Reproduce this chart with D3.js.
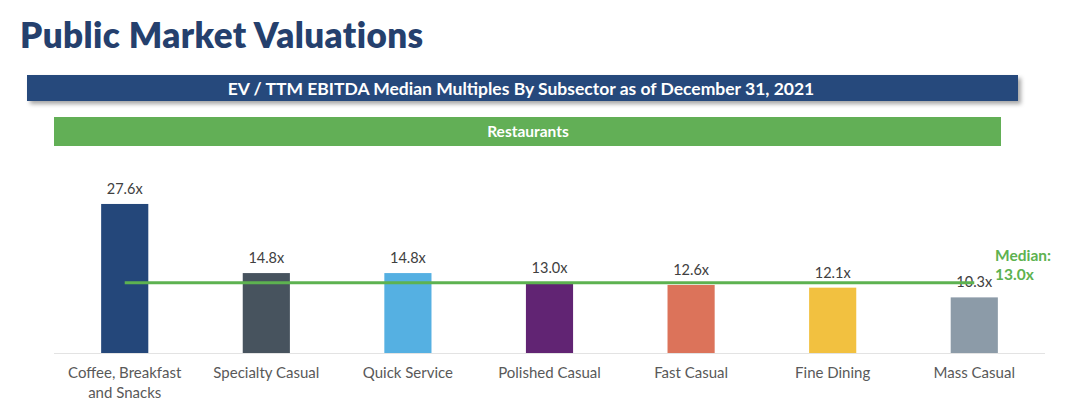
<!DOCTYPE html>
<html><head><meta charset="utf-8">
<script src="https://cdn.jsdelivr.net/npm/d3@7"></script>
<style>body{margin:0;background:#fff;} svg{display:block;font-family:Lato, "Open Sans", sans-serif;}</style>
</head><body>
<script>
const categories = ["Coffee, Breakfast|and Snacks","Specialty Casual","Quick Service","Polished Casual","Fast Casual","Fine Dining","Mass Casual"];
const values = [27.6,14.8,14.8,13.0,12.6,12.1,10.3];
const colors = ["#24477A","#47535E","#55B0E2","#612473","#DC735A","#F2C140","#8C9BA8"];
const medianValue = 13.0;
const titleText = "Public Market Valuations";
const headerText = "EV / TTM EBITDA Median Multiples By Subsector as of December 31, 2021";
const subHeaderText = "Restaurants";

const W=1079,H=415;
const svg=d3.select("body").append("svg").attr("width",W).attr("height",H);
const defs=svg.append("defs");
const f=defs.append("filter").attr("id","sh").attr("x","-5%").attr("y","-50%").attr("width","110%").attr("height","200%");
f.append("feDropShadow").attr("dx",3).attr("dy",3).attr("stdDeviation",2).attr("flood-color","#000").attr("flood-opacity",0.35);

svg.append("text").attr("x",20).attr("y",48).attr("fill","#25406D").attr("font-size",35).attr("font-weight",800).attr("letter-spacing",0.4).text(titleText);

svg.append("rect").attr("x",27).attr("y",75).attr("width",991).attr("height",26).attr("fill","#26487B").attr("filter","url(#sh)");
svg.append("text").attr("x",521).attr("y",94.5).attr("text-anchor","middle").attr("fill","#fff").attr("font-size",17.5).attr("font-weight",700).text(headerText);

svg.append("rect").attr("x",54).attr("y",117).attr("width",947).attr("height",29).attr("fill","#62AF56");
svg.append("text").attr("x",528).attr("y",137).attr("text-anchor","middle").attr("fill","#fff").attr("font-size",15.5).attr("font-weight",700).text(subHeaderText);

const x=d3.scaleBand().domain(categories).range([54,1045]).paddingInner(0.667).paddingOuter(0.333);
const y=d3.scaleLinear().domain([0,30]).range([353,353-162]);

svg.append("line").attr("x1",54).attr("x2",1045).attr("y1",353.5).attr("y2",353.5).attr("stroke","#E3E3E3").attr("stroke-width",1);

svg.selectAll("rect.bar").data(values).join("rect").attr("class","bar")
  .attr("x",(d,i)=>x(categories[i])).attr("width",x.bandwidth())
  .attr("y",d=>y(d)).attr("height",d=>y(0)-y(d)).attr("fill",(d,i)=>colors[i]);

svg.selectAll("text.val").data(values).join("text").attr("class","val")
  .attr("x",(d,i)=>x(categories[i])+x.bandwidth()/2).attr("y",d=>y(d)-10)
  .attr("text-anchor","middle").attr("fill","#404040").attr("font-size",14.5).text(d=>d.toFixed(1)+"x");

const cat=svg.selectAll("text.cat").data(categories).join("text").attr("class","cat")
  .attr("x",d=>x(d)+x.bandwidth()/2).attr("y",378).attr("text-anchor","middle").attr("fill","#595959").attr("font-size",15);
cat.each(function(d){
  const t=d3.select(this);
  d.split("|").forEach((s,k)=>t.append("tspan").attr("x",x(d)+x.bandwidth()/2).attr("dy",k?20:0).text(s));
});

const xm0=x(categories[0])+x.bandwidth()/2, xm1=x(categories[categories.length-1])+x.bandwidth()/2;
svg.append("line").attr("x1",xm0).attr("x2",xm1).attr("y1",y(medianValue)).attr("y2",y(medianValue)).attr("stroke","#5DB250").attr("stroke-width",3);
svg.append("text").attr("x",995).attr("y",261).attr("fill","#5DB250").attr("font-size",15.5).attr("font-weight",700)
  .selectAll("tspan").data(["Median:",medianValue.toFixed(1)+"x"]).join("tspan").attr("x",995).attr("dy",(d,i)=>i?19:0).text(d=>d);
</script>
</body></html>
